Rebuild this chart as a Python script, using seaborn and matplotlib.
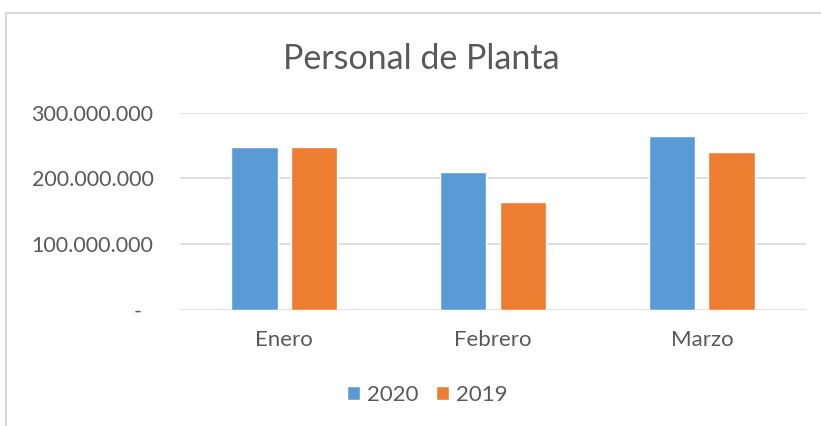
import pandas as pd
import seaborn as sns
import matplotlib.pyplot as plt
from matplotlib.patches import Rectangle
from matplotlib.ticker import FuncFormatter

# data
meses = ['Enero', 'Febrero', 'Marzo']
valores_2020 = [248000000, 210000000, 264000000]
valores_2019 = [248000000, 165000000, 240000000]
anios = ['2020', '2019']
colores = ['#5B9BD5', '#ED7D31']
y_ticks = [0, 100000000, 200000000, 300000000]

df = pd.DataFrame({
    'mes': meses * 2,
    'valor': valores_2020 + valores_2019,
    'anio': [anios[0]] * len(meses) + [anios[1]] * len(meses),
})

sns.set_theme(style='white')
plt.rcParams['font.family'] = ['Lato', 'DejaVu Sans']
gris = '#595959'

fig = plt.figure(figsize=(8.21, 4.26), dpi=100)
ax = fig.add_axes([0.219, 0.272, 0.763, 0.4635])

sns.barplot(data=df, x='mes', y='valor', hue='anio', hue_order=anios,
            palette=colores, saturation=1, width=0.57, gap=0.22, ax=ax,
            legend=True)

ax.set_ylim(0, 300000000)
ax.set_yticks(y_ticks)
# accounting style: zero shown as a dash
ax.yaxis.set_major_formatter(FuncFormatter(
    lambda v, p: '-  ' if v == 0 else f'{int(v):,}'.replace(',', '.')))
ax.grid(axis='y', color='#D9D9D9', linewidth=1.2)
ax.set_axisbelow(True)
for s in ax.spines.values():
    s.set_visible(False)
ax.tick_params(axis='y', length=0, pad=19, labelsize=15.5, labelcolor=gris)
ax.tick_params(axis='x', length=0, pad=14, labelsize=16, labelcolor=gris)
ax.set_xlabel('')
ax.set_ylabel('')

ax.get_legend().remove()
handles, labels = ax.get_legend_handles_labels()
fig.legend(handles, labels, loc='center', bbox_to_anchor=(0.52, 1 - 395 / 426),
           ncol=2, frameon=False, fontsize=16, labelcolor=gris,
           handlelength=0.6, handleheight=0.6, handletextpad=0.3, columnspacing=0.8)

fig.text(0.513, 1 - 59 / 426, 'Personal de Planta', ha='center', va='center',
         fontsize=24.5, color=gris)

# light frame around the chart area like the spreadsheet
fig.patches.append(Rectangle((6 / 821, -0.05), 1.0, 1 - 13 / 426 + 0.05,
                             transform=fig.transFigure, fill=False,
                             edgecolor='#D9D9D9', linewidth=1.5))

fig.savefig('out.png', dpi=100)
